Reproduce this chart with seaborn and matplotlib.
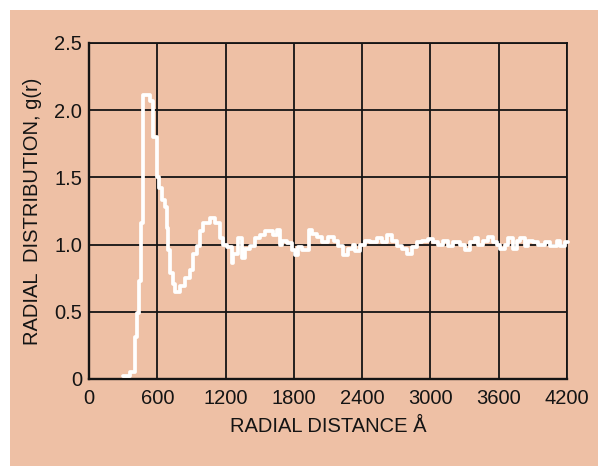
import matplotlib
matplotlib.use("Agg")
import matplotlib.pyplot as plt
import seaborn as sns
import pandas as pd
from matplotlib.patches import Rectangle

# ---- data ----
r_edges = [300, 360, 404, 425, 440, 460, 477, 536, 565, 594, 615, 640, 665, 682, 697,
           712, 741, 760, 800, 843, 887, 917, 946, 975, 1005, 1063, 1107, 1151, 1180,
           1210, 1253, 1268, 1312, 1341, 1371, 1415, 1459, 1503, 1550, 1620, 1650, 1680,
           1700, 1740, 1780, 1810, 1840, 1870, 1930, 1960, 2000, 2045, 2100, 2150, 2190,
           2235, 2280, 2320, 2340, 2381, 2425, 2469, 2527, 2571, 2615, 2659, 2703, 2747,
           2791, 2835, 2879, 2923, 2981, 3025, 3069, 3113, 3157, 3201, 3260, 3304, 3348,
           3392, 3421, 3465, 3509, 3553, 3582, 3612, 3656, 3685, 3729, 3758, 3788, 3832,
           3861, 3905, 3949, 4007, 4051, 4110, 4139, 4183, 4213]
g_values = [0.02, 0.05, 0.31, 0.49, 0.73, 1.16, 2.11, 2.07, 1.80, 1.50, 1.42, 1.33, 1.28,
            1.12, 0.96, 0.79, 0.71, 0.65, 0.69, 0.75, 0.81, 0.93, 0.99, 1.10, 1.16, 1.20,
            1.16, 1.05, 1.00, 0.98, 0.86, 0.93, 1.05, 0.90, 0.97, 0.99, 1.05, 1.07, 1.10,
            1.07, 1.11, 1.00, 1.03, 1.01, 0.96, 0.92, 0.98, 0.96, 1.11, 1.08, 1.06, 1.02,
            1.06, 1.03, 0.99, 0.92, 0.97, 1.00, 0.95, 1.00, 1.03, 1.02, 1.05, 1.02, 1.07,
            1.03, 0.99, 0.97, 0.93, 0.98, 1.02, 1.03, 1.04, 1.02, 1.00, 1.03, 0.99, 1.02,
            1.00, 0.96, 1.02, 1.05, 1.00, 1.03, 1.06, 1.02, 1.00, 0.97, 1.00, 1.05, 0.97,
            1.03, 1.05, 0.99, 1.03, 1.02, 1.00, 1.02, 0.99, 1.03, 0.99, 1.02, 1.02]

x_ticks = [0, 600, 1200, 1800, 2400, 3000, 3600, 4200]
x_tick_labels = ["0", "600", "1200", "1800", "2400", "3000", "3600", "4200"]
y_ticks = [0, 0.5, 1.0, 1.5, 2.0, 2.5]
y_tick_labels = ["0", "0.5", "1.0", "1.5", "2.0", "2.5"]

PEACH = "#EEC0A5"
INK = "#141414"

sns.set_theme(style="white")
plt.rcParams["font.family"] = ["Liberation Sans", "DejaVu Sans"]

fig = plt.figure(figsize=(5.98, 4.66), dpi=100, facecolor="white")
bg = Rectangle((10 / 598, 0), 1, 1 - 10 / 466, transform=fig.transFigure,
               facecolor=PEACH, edgecolor="none", zorder=-10)
fig.add_artist(bg)
ax = fig.add_axes([89 / 598, 1 - 379 / 466, (567 - 89) / 598, (379 - 43) / 466])
ax.set_zorder(1)
ax.set_facecolor(PEACH)

df = pd.DataFrame({"r": r_edges, "g": g_values})
sns.lineplot(data=df, x="r", y="g", ax=ax, estimator=None, sort=True,
             drawstyle="steps-post", color="white", linewidth=2.7, clip_on=False, zorder=5)

ax.set_xlim(0, 4200)
ax.set_ylim(0, 2.5)
ax.set_xticks(x_ticks)
ax.set_xticklabels(x_tick_labels)
ax.set_yticks(y_ticks)
ax.set_yticklabels(y_tick_labels)
ax.grid(True, color=INK, linewidth=1.3)
ax.set_axisbelow(True)
ax.tick_params(axis="both", length=0, labelsize=14.5, colors=INK)
ax.tick_params(axis="x", pad=7)
ax.tick_params(axis="y", pad=5)
for side, sp in ax.spines.items():
    sp.set_visible(True)
    sp.set_color(INK)
    sp.set_linewidth(1.7 if side in ("left", "bottom") else 1.3)

ax.set_xlabel("RADIAL DISTANCE Å", fontsize=14.5, color=INK, labelpad=7)
ax.set_ylabel("RADIAL  DISTRIBUTION, g(r)", fontsize=14.5, color=INK, labelpad=9)

fig.savefig("out.png", dpi=100, facecolor=fig.get_facecolor())
